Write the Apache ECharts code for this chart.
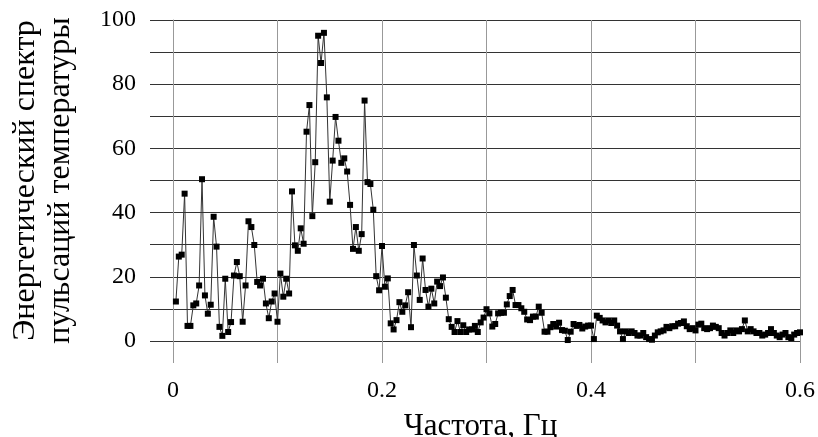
<!DOCTYPE html>
<html>
<head>
<meta charset="utf-8">
<script src="https://cdn.jsdelivr.net/npm/echarts@6/dist/echarts.min.js"></script>
<style>
html,body{margin:0;padding:0;background:#fff;}
#main{width:818px;height:437px;}
</style>
</head>
<body>
<div id="main"></div>
<script>
// шаг по частоте, Гц
var freqStep = 1 / 360;
// энергетический спектр (читается с графика)
var spectrum = [
    12.3, 26.3, 26.9, 45.9, 4.7, 4.7, 11.1, 11.7, 17.3, 50.4,
    14.2, 8.5, 11.3, 38.7, 29.4, 4.4, 1.6, 19.4, 2.8, 5.9,
    20.4, 24.6, 20.2, 6.0, 17.3, 37.3, 35.5, 29.9, 18.4, 17.3,
    19.4, 11.7, 7.1, 12.3, 14.8, 6.0, 21.0, 13.8, 19.4, 14.8,
    46.6, 29.8, 28.1, 35.1, 30.3, 65.2, 73.5, 38.9, 55.7, 95.1,
    86.6, 96.0, 75.9, 43.4, 56.2, 69.8, 62.4, 55.5, 56.9, 52.8,
    42.4, 28.7, 35.5, 28.1, 33.3, 74.9, 49.5, 48.9, 40.9, 20.2,
    15.8, 29.6, 16.9, 19.5, 5.5, 3.6, 6.5, 12.1, 9.1, 11.1,
    15.2, 4.3, 29.9, 20.4, 12.8, 25.7, 15.9, 10.7, 16.3, 11.7,
    18.5, 17.1, 19.8, 13.5, 6.8, 4.4, 2.8, 6.2, 2.8, 4.9,
    2.8, 3.6, 3.6, 4.7, 2.8, 5.8, 7.3, 9.9, 8.6, 4.5,
    5.3, 8.6, 8.8, 8.8, 11.4, 14.0, 15.9, 11.2, 11.2, 10.2,
    9.1, 6.7, 6.5, 7.6, 7.6, 10.7, 8.8, 2.9, 2.9, 4.3,
    5.3, 4.5, 5.7, 3.4, 3.2, 0.3, 2.9, 5.3, 4.7, 5.0,
    3.9, 4.5, 4.8, 4.8, 0.6, 7.9, 7.2, 6.4, 5.8, 6.4,
    5.6, 6.4, 4.8, 3.0, 0.6, 3.0, 2.5, 3.0, 2.5, 1.7,
    1.7, 2.5, 1.2, 0.6, 0.4, 1.7, 2.7, 3.0, 3.3, 4.4,
    4.0, 4.6, 4.6, 5.4, 5.6, 6.1, 4.6, 3.7,
    4.0, 3.3, 5.1, 5.4, 4.0, 3.7, 4.0, 4.8, 4.4, 4.0,
    2.5, 1.7, 2.5, 3.3, 2.5, 3.3, 3.0, 3.7, 6.4,
    3.0, 3.7, 3.0, 2.5, 2.5, 1.7, 2.0, 2.5, 3.7, 2.5,
    1.7, 1.2, 2.0, 2.5, 1.2, 0.9, 2.0, 2.5, 2.7
];
var xTickLabels = ['0', '0.2', '0.4', '0.6'];
var yTickLabels = [0, 20, 40, 60, 80, 100];

var font = 'Liberation Serif';
var seriesData = [];
for (var i = 0; i < spectrum.length; i++) {
    seriesData.push([(i + 1) * freqStep, spectrum[i]]);
}

var chart = echarts.init(document.getElementById('main'), null, {renderer: 'canvas'});
var option = {
    animation: false,
    backgroundColor: '#fff',
    textStyle: {fontFamily: font, color: '#000'},
    grid: {left: 173, right: 18, top: 20, bottom: 96, outerBoundsMode: 'none', containLabel: false},
    xAxis: {
        type: 'value',
        min: 0,
        max: 0.6,
        interval: 0.1,
        name: 'Частота, Гц',
        nameLocation: 'middle',
        nameGap: 70,
        nameTextStyle: {fontFamily: font, fontSize: 31, color: '#000', padding: [0, 12, 0, 0]},
        axisLine: {show: true, onZero: false, lineStyle: {color: '#333', width: 1}},
        axisTick: {show: true, length: 22, lineStyle: {color: '#999', width: 1}},
        axisLabel: {
            margin: 38,
            fontFamily: font,
            fontSize: 24,
            color: '#000',
            formatter: function (v) {
                var s = (Math.round(v * 10) / 10).toString();
                return xTickLabels.indexOf(s) >= 0 ? s : '';
            }
        },
        splitLine: {show: true, lineStyle: {color: '#999', width: 1}}
    },
    yAxis: {
        type: 'value',
        min: 0,
        max: 100,
        interval: 10,
        name: 'Энергетический спектр\nпульсаций температуры',
        nameLocation: 'middle',
        nameGap: 95,
        nameTextStyle: {fontFamily: font, fontSize: 32, color: '#000', lineHeight: 35},
        axisLine: {show: true, lineStyle: {color: '#999', width: 1}},
        axisTick: {show: true, length: 23, lineStyle: {color: '#333', width: 1}},
        axisLabel: {
            margin: 37,
            fontFamily: font,
            fontSize: 24,
            color: '#000',
            formatter: function (v) {
                return yTickLabels.indexOf(v) >= 0 ? String(v) : '';
            }
        },
        splitLine: {show: true, lineStyle: {color: '#333', width: 1}}
    },
    series: [{
        type: 'line',
        data: seriesData,
        symbol: 'rect',
        symbolSize: 6,
        showAllSymbol: true,
        lineStyle: {color: '#333', width: 1},
        itemStyle: {color: '#000'}
    }]
};
chart.setOption(option);
</script>
</body>
</html>
